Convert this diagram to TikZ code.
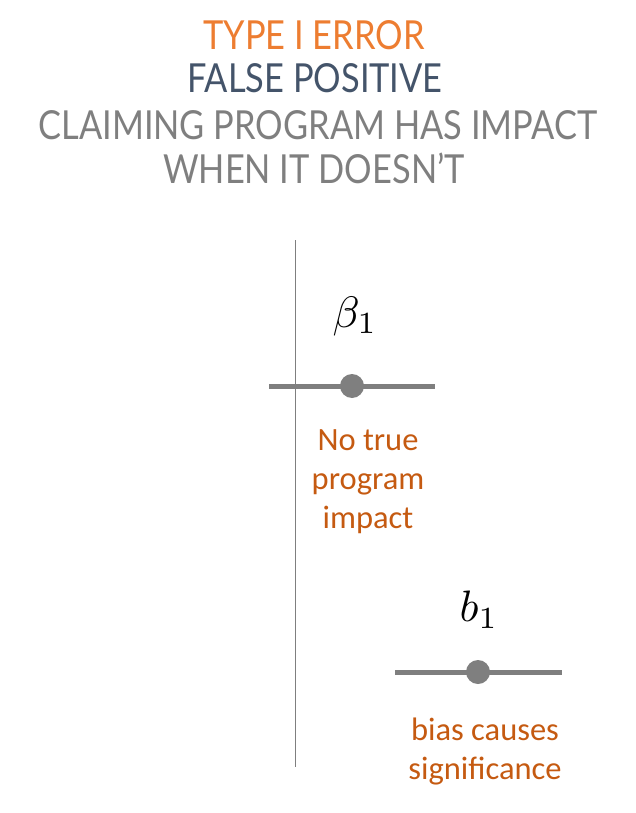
\documentclass[tikz,border=0pt]{standalone}
\usepackage{fontspec}
\usepackage{xcolor}
\usepackage{graphicx}
\usepackage{tikz}
\usepackage{amsmath}
\usetikzlibrary{positioning}
\newfontfamily\headfont[FakeStretch=0.86]{Lato}
\newfontfamily\labelfont{Carlito}
\definecolor{ErrOrange}{HTML}{ED7D31}
\definecolor{ErrNavy}{HTML}{44546A}
\definecolor{ErrGray}{HTML}{7F7F7F}
\definecolor{ErrRust}{HTML}{C55A11}
\newcommand{\bigcoef}[1]{\scalebox{4.4}{$#1$}}

\begin{document}
\begin{tikzpicture}[
    x=1pt, y=-1pt,
    headline/.style={anchor=base, inner sep=0pt, font=\headfont\fontsize{40}{40}\selectfont},
    estlabel/.style={anchor=base, inner sep=0pt, align=center, text=ErrRust,
      font=\labelfont\fontsize{32.5}{39}\selectfont},
    coef/.style={inner sep=0pt},
    ci/.style={draw=ErrGray, line width=5pt},
    est/.style={circle, fill=ErrGray, inner sep=0pt, minimum size=24pt}
  ]
    \useasboundingbox (0,0) rectangle (636,813);

    % title
    \node[headline, text=ErrOrange] (ttype) at (314,50) {TYPE I ERROR};
    \node[headline, text=ErrNavy] (tfalse) at (315,93) {FALSE POSITIVE};
    \node[headline, text=ErrGray] (tclaim) at (318,140) {CLAIMING PROGRAM HAS IMPACT};
    \node[headline, text=ErrGray] (twhen) at (314,183) {WHEN IT DOESN’T};

    % zero line
    \coordinate (ztop) at (295,240);
    \coordinate (zbot) at (295,767);
    \draw[ErrGray, line width=1pt] (ztop) -- (zbot);

    % true parameter
    \node[coef] (beta) at (355,316) {\bigcoef{\beta_1}};
    \coordinate (blo) at (269,386);
    \coordinate (bhi) at (435,386);
    \draw[ci] (blo) -- (bhi);
    \node[est] (bdot) at (352,386) {};
    \node[estlabel] (bnote) at (368,528) {No true\\program\\impact};

    % biased estimate
    \node[coef] (best) at (479,610) {\bigcoef{b_1}};
    \coordinate (elo) at (395,672);
    \coordinate (ehi) at (562,672);
    \draw[ci] (elo) -- (ehi);
    \node[est] (edot) at (478,672) {};
    \node[estlabel] (enote) at (485,779) {bias causes\\significance};
  \end{tikzpicture}
\end{document}
